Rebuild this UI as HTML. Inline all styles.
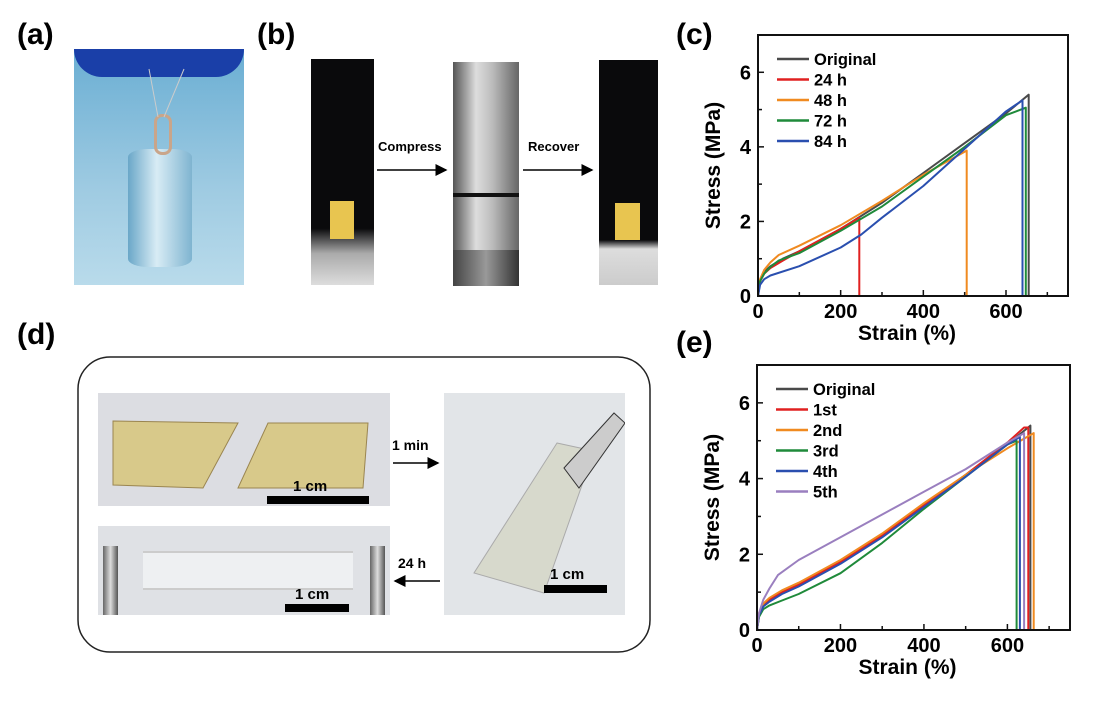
<!DOCTYPE html>
<html><head><meta charset="utf-8"><style>
body{margin:0;width:1109px;height:701px;background:#fff;position:relative;overflow:hidden;font-family:"Liberation Sans",sans-serif}
.abs{position:absolute}
.lbl{position:absolute;font-size:30px;font-weight:bold;color:#000}
.txt{position:absolute;font-size:14px;font-weight:bold;color:#000}
.bar{position:absolute;background:#000;height:8px}
</style></head><body>
<div class="lbl" style="left:17px;top:18px">(a)</div>
<div class="lbl" style="left:257px;top:18px">(b)</div>
<div class="lbl" style="left:676px;top:18px">(c)</div>
<div class="lbl" style="left:17px;top:318px">(d)</div>
<div class="lbl" style="left:676px;top:326px">(e)</div>

<div class="abs" style="left:74px;top:49px;width:170px;height:236px;overflow:hidden;background:linear-gradient(180deg,#6aaed3,#9fcbe2 60%,#b9dbeb)">
 <div class="abs" style="left:0;top:0;width:170px;height:28px;background:#1a3fa8;border-radius:0 0 30px 30px"></div>
 <div class="abs" style="left:54px;top:100px;width:64px;height:118px;background:linear-gradient(90deg,#6aa7c8,#d8ecf5 45%,#7fb4d0);border-radius:20px/8px"></div>
 <div class="abs" style="left:80px;top:65px;width:12px;height:35px;border:3px solid #c9a58a;border-radius:8px"></div>
 <svg class="abs" style="left:0;top:0" width="170" height="236"><line x1="75" y1="20" x2="84" y2="68" stroke="#ccc"/><line x1="110" y1="20" x2="90" y2="68" stroke="#ccc"/></svg>
</div>

<div class="abs" style="left:311px;top:59px;width:63px;height:226px;background:linear-gradient(180deg,#0a0a0c 75%,#aaa 86%,#ddd)">
 <div class="abs" style="left:19px;top:142px;width:24px;height:38px;background:#e8c550"></div></div>
<div class="abs" style="left:453px;top:62px;width:66px;height:224px;background:linear-gradient(90deg,#555,#ddd 35%,#bbb 60%,#666)">
 <div class="abs" style="left:0;top:131px;width:66px;height:4px;background:#111"></div>
 <div class="abs" style="left:0;top:188px;width:66px;height:36px;background:linear-gradient(90deg,#444,#999,#333)"></div></div>
<div class="abs" style="left:599px;top:60px;width:59px;height:225px;background:linear-gradient(180deg,#0a0a0c 80%,#ddd 84%,#ccc)">
 <div class="abs" style="left:16px;top:143px;width:25px;height:37px;background:#e8c550"></div></div>
<div class="txt" style="left:378px;top:139px;font-size:13px">Compress</div>
<div class="txt" style="left:528px;top:139px;font-size:13px">Recover</div>
<svg class="abs" style="left:0;top:0" width="1109" height="701">
 <defs><marker id="ah" markerWidth="8" markerHeight="8" refX="7" refY="4" orient="auto"><path d="M0,0L8,4L0,8z" fill="#000"/></marker></defs>
 <line x1="377" y1="170" x2="446" y2="170" stroke="#000" stroke-width="1.5" marker-end="url(#ah)"/>
 <line x1="523" y1="170" x2="592" y2="170" stroke="#000" stroke-width="1.5" marker-end="url(#ah)"/>
 <line x1="393" y1="463" x2="438" y2="463" stroke="#000" stroke-width="1.5" marker-end="url(#ah)"/>
 <line x1="440" y1="581" x2="395" y2="581" stroke="#000" stroke-width="1.5" marker-end="url(#ah)"/>
 <rect x="78" y="357" width="572" height="295" rx="32" fill="none" stroke="#222" stroke-width="1.5"/>
</svg>
<div class="abs" style="left:98px;top:393px;width:292px;height:113px;background:#dcdde2">
 <svg width="292" height="113"><polygon points="15,28 140,30 105,95 15,92" fill="#d8c98a" stroke="#9a8550"/><polygon points="170,30 270,30 265,95 140,95" fill="#d8c98a" stroke="#9a8550"/></svg></div>
<div class="txt" style="left:293px;top:478px;font-size:15px">1 cm</div>
<div class="bar" style="left:267px;top:496px;width:102px"></div>
<div class="abs" style="left:98px;top:526px;width:292px;height:89px;background:#dfe1e5">
 <div class="abs" style="left:45px;top:25px;width:210px;height:35px;background:#eef0f2;border-top:2px solid #ccc;border-bottom:2px solid #ccc"></div>
 <div class="abs" style="left:5px;top:20px;width:15px;height:69px;background:linear-gradient(90deg,#666,#ddd,#555)"></div>
 <div class="abs" style="left:272px;top:20px;width:15px;height:69px;background:linear-gradient(90deg,#666,#ddd,#555)"></div></div>
<div class="txt" style="left:295px;top:586px;font-size:15px">1 cm</div>
<div class="bar" style="left:285px;top:604px;width:64px"></div>
<div class="abs" style="left:444px;top:393px;width:181px;height:222px;background:#e2e5e8">
 <svg width="181" height="222"><polygon points="113,50 150,58 100,200 30,180" fill="#d7d9cc" stroke="#aaa"/><polygon points="120,75 170,20 181,30 135,95" fill="#ccc" stroke="#333"/></svg></div>
<div class="txt" style="left:550px;top:566px;font-size:15px">1 cm</div>
<div class="bar" style="left:544px;top:585px;width:63px"></div>
<div class="txt" style="left:392px;top:437px">1 min</div>
<div class="txt" style="left:398px;top:555px">24 h</div>

<svg id="chartC" class="abs" style="left:0;top:0" width="1109" height="701"></svg>
<svg id="chartE" class="abs" style="left:0;top:0" width="1109" height="701"></svg>
<script>
const xTicks=[0,200,400,600];
const yTicks=[0,2,4,6];
const namesC=["Original","24 h","48 h","72 h","84 h"];
const colorsC=["#4a4a4a","#e02020","#f08a20","#1f8a3a","#2a4faf"];
const cOriginal=[[0,0],[5,0.4],[15,0.65],[30,0.8],[60,1.0],[100,1.2],[200,1.8],[300,2.5],[400,3.3],[500,4.1],[600,4.9],[655,5.4]];
const c24=[[0,0],[5,0.4],[15,0.6],[30,0.75],[60,0.95],[100,1.2],[200,1.8],[245,2.1]];
const c48=[[0,0],[5,0.45],[15,0.7],[30,0.9],[50,1.1],[100,1.35],[200,1.9],[300,2.55],[400,3.25],[505,3.9]];
const c72=[[0,0],[5,0.4],[15,0.6],[30,0.78],[50,0.95],[100,1.15],[200,1.75],[300,2.4],[400,3.2],[500,4.0],[600,4.85],[648,5.05]];
const c84=[[0,0],[5,0.3],[15,0.45],[30,0.55],[100,0.8],[200,1.3],[250,1.65],[300,2.1],[400,2.95],[500,3.95],[600,4.95],[640,5.25]];
const seriesC=[cOriginal,c24,c48,c72,c84];
const namesE=["Original","1st","2nd","3rd","4th","5th"];
const colorsE=["#4a4a4a","#e02020","#f08a20","#1f8a3a","#2a4faf","#9a7fbf"];
const eOriginal=[[0,0],[5,0.4],[15,0.65],[30,0.8],[60,1.0],[100,1.2],[200,1.8],[300,2.5],[400,3.3],[500,4.1],[600,4.9],[655,5.4]];
const e1=[[0,0],[5,0.4],[15,0.65],[30,0.8],[60,1.0],[100,1.2],[200,1.8],[300,2.5],[400,3.3],[500,4.1],[600,4.95],[640,5.35],[650,5.35]];
const e2=[[0,0],[5,0.45],[15,0.7],[30,0.85],[60,1.05],[100,1.25],[200,1.85],[300,2.55],[400,3.35],[500,4.1],[600,4.8],[663,5.2]];
const e3=[[0,0],[5,0.35],[15,0.55],[30,0.65],[60,0.78],[100,0.95],[200,1.5],[300,2.3],[400,3.2],[500,4.05],[600,4.9],[622,5.0]];
const e4=[[0,0],[5,0.4],[15,0.62],[30,0.75],[60,0.95],[100,1.15],[200,1.75],[300,2.45],[400,3.25],[500,4.05],[600,4.9],[630,5.1]];
const e5=[[0,0],[5,0.45],[15,0.8],[30,1.1],[50,1.45],[100,1.85],[200,2.45],[300,3.05],[400,3.65],[500,4.25],[600,4.95],[640,5.2]];
const seriesE=[eOriginal,e1,e2,e3,e4,e5];
const NS="http://www.w3.org/2000/svg";
function mk(svg,tag,attrs){const e=document.createElementNS(NS,tag);for(const k in attrs)e.setAttribute(k,attrs[k]);svg.appendChild(e);return e;}
function draw(svg,L,R,T,B,series,names,colors,pfx){
 const xs=v=>L+(v/750)*(R-L), ys=v=>B-(v/7)*(B-T);
 series.forEach((s,i)=>{
  let d=s.map((p,j)=>(j?"L":"M")+xs(p[0]).toFixed(1)+","+ys(p[1]).toFixed(1)).join("");
  const last=s[s.length-1]; d+="L"+xs(last[0]).toFixed(1)+","+ys(0);
  const p=mk(svg,"path",{d:d,fill:"none",stroke:colors[i],"stroke-width":2,"stroke-linejoin":"round"});
  
  
 });
 mk(svg,"rect",{x:L,y:T,width:R-L,height:B-T,fill:"none",stroke:"#111","stroke-width":2});
 for(let v=0;v<=700;v+=100){const x=xs(v);mk(svg,"line",{x1:x,x2:x,y1:B,y2:B-(v%200==0?6:4),stroke:"#111","stroke-width":1.5});}
 for(let v=0;v<=7;v+=1){const y=ys(v);mk(svg,"line",{x1:L,x2:L+(v%2==0?6:4),y1:y,y2:y,stroke:"#111","stroke-width":1.5});}
 xTicks.forEach(v=>{const t=mk(svg,"text",{x:xs(v),y:B+22,"text-anchor":"middle","font-size":20,"font-weight":"bold"});t.textContent=v;
  });
 yTicks.forEach(v=>{const t=mk(svg,"text",{x:L-7,y:ys(v)+7,"text-anchor":"end","font-size":20,"font-weight":"bold"});t.textContent=v;
  });
 const xt=mk(svg,"text",{x:(L+R)/2-6,y:B+44,"text-anchor":"middle","font-size":21,"font-weight":"bold"});xt.textContent="Strain (%)";
 
 const cy=(T+B)/2; const yt=mk(svg,"text",{x:L-38,y:cy,"text-anchor":"middle","font-size":21,"font-weight":"bold",transform:`rotate(-90 ${L-38} ${cy})`});yt.textContent="Stress (MPa)";
 
 names.forEach((n,i)=>{const y=T+24+i*20.5;
  mk(svg,"line",{x1:L+19,x2:L+51,y1:y,y2:y,stroke:colors[i],"stroke-width":2.5});
  const t=mk(svg,"text",{x:L+56,y:y+6,"font-size":16.5,"font-weight":"bold"});t.textContent=n;
  });
}
draw(document.getElementById("chartC"),758,1068,35,296,seriesC,namesC,colorsC,"chart-c");
draw(document.getElementById("chartE"),757,1070,365,630,seriesE,namesE,colorsE,"chart-e");
</script>
</body></html>
